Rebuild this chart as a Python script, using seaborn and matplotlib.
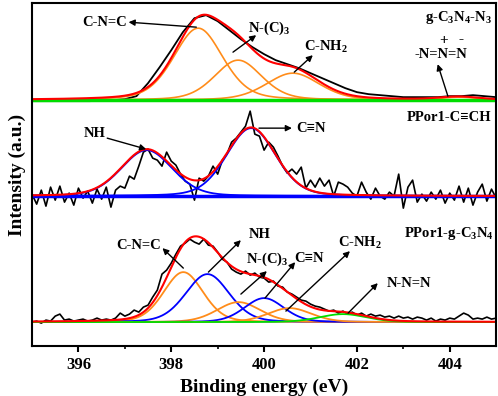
import numpy as np
import matplotlib
matplotlib.use("Agg")
import matplotlib.pyplot as plt
import seaborn as sns

# ---- data (heights above each spectrum's baseline, a.u.) ----
energy_coarse = np.round(np.arange(395.0, 405.001, 0.25), 2)   # top spectrum sampling
energy_fine = np.round(np.arange(395.0, 405.001, 0.1), 2)      # noisy spectra sampling

g_c3n4_n3 = [-1, -1, -1, -1, -1, -1, 0, 0, 1, 4,
             17, 33, 50, 68, 82, 85, 79, 70, 61, 53,
             46, 40, 36, 32, 27, 22, 17, 12, 8, 6,
             5, 4, 3, 3, 3, 3, 4, 4, 5, 4, 3]

ppor1_cch = [2, -8, 6, -10, 9, -4, 10, -6, 3, -9,
             8, -2, 5, -7, 7, -3, 9, -11, 6, 10,
             8, 20, 17, 30, 44, 47, 38, 36, 30, 44,
             35, 31, 22, 15, 12, -4, 18, 15, 20, 30,
             22, 36, 42, 54, 58, 64, 70, 85, 62, 60,
             46, 54, 49, 40, 30, 23, 27, 22, 29, 8,
             16, 9, 18, 10, 16, 0, 14, 12, 9, 3,
             0, 14, 4, -3, 8, 0, -3, 4, 0, 22,
             -12, 9, 16, -6, 2, -5, 4, -3, 6, -7,
             3, -4, 10, -6, 8, -9, 4, 12, -5, 7, -2]

ppor1_gc3n4 = [0, 1, -1, 2, 1, 6, 8, 2, 3, 1,
               2, 3, 1, 2, 4, 2, 3, 2, 4, 9,
               6, 8, 12, 10, 15, 17, 25, 32, 48, 52,
               59, 68, 76, 79, 83, 80, 78, 83, 77, 76,
               70, 63, 60, 53, 50, 48, 51, 47, 49, 45,
               44, 40, 41, 36, 35, 30, 28, 25, 22, 21,
               18, 16, 15, 13, 11, 12, 9, 11, 8, 10,
               7, 9, 6, 8, 6, 7, 5, 6, 4, 6,
               4, 5, 3, 5, 4, 2, 4, 1, 3, 2,
               4, 3, 6, 9, 7, 3, 4, 3, 5, 3, 4]

# fitted components: centre (eV), height, FWHM (eV)
top_centres = [398.58, 399.44, 400.62, 404.2]
top_heights = [72, 40, 27, 3]
top_fwhm = [1.25, 1.2, 1.35, 1.0]

mid_centres = [397.47, 399.72]
mid_heights = [46, 68]
mid_fwhm = [1.3, 1.25]

bot_centres = [398.26, 398.78, 399.45, 400.0, 400.55, 401.7]
bot_heights = [50, 48, 20, 24, 14, 8]
bot_fwhm = [1.0, 1.1, 1.1, 1.0, 1.1, 1.2]
bot_colors = ["#ff8c1a", "#0000ff", "#ff8c1a", "#0000ff", "#ff8c1a", "#00dd00"]

# vertical stacking offsets
off_top, off_mid, off_bot = 246, 150, 24


def pseudo_voigt(x, c, h, w, eta=0.25):
    g = np.exp(-4 * np.log(2) * (x - c) ** 2 / w ** 2)
    l = 1 / (1 + 4 * (x - c) ** 2 / w ** 2)
    return h * ((1 - eta) * g + eta * l)


sns.set_theme(style="ticks")
plt.rcParams['font.family'] = ['Liberation Serif', 'DejaVu Serif']
plt.rcParams['font.weight'] = 'bold'
plt.rcParams['text.color'] = 'black'
plt.rcParams['axes.labelcolor'] = 'black'
plt.rcParams['xtick.color'] = 'black'
plt.rcParams['mathtext.fontset'] = 'custom'
plt.rcParams['mathtext.rm'] = 'Liberation Serif:bold'
plt.rcParams['mathtext.it'] = 'Liberation Serif:bold'
plt.rcParams['mathtext.bf'] = 'Liberation Serif:bold'

fig = plt.figure(figsize=(4.98, 3.96), dpi=100)
ax = fig.add_axes([0.0643, 0.126, 0.932, 0.866])

xf = np.linspace(395, 405, 600)

# ---- top: g-C3N4-N3 ----
sns.lineplot(x=energy_coarse, y=np.array(g_c3n4_n3) + off_top, color="black", lw=1.3, ax=ax)
env = np.zeros_like(xf)
for c, h, w in zip(top_centres, top_heights, top_fwhm):
    comp = pseudo_voigt(xf, c, h, w, 0.3)
    env += comp
    sns.lineplot(x=xf, y=comp + off_top, color="#ff8c1a", lw=1.2, ax=ax)
sns.lineplot(x=xf, y=np.full_like(xf, off_top), color="#00dd00", lw=2.5, ax=ax)
sns.lineplot(x=xf, y=env + off_top, color="#ff0000", lw=1.5, ax=ax)

# ---- middle: PPor1-C≡CH ----
sns.lineplot(x=energy_fine, y=np.array(ppor1_cch) + off_mid, color="black", lw=1.2, ax=ax)
env = np.zeros_like(xf)
for c, h, w in zip(mid_centres, mid_heights, mid_fwhm):
    comp = pseudo_voigt(xf, c, h, w, 0.2)
    env += comp
    sns.lineplot(x=xf, y=comp + off_mid, color="#0000ff", lw=1.3, ax=ax)
sns.lineplot(x=xf, y=np.full_like(xf, off_mid), color="#0000ff", lw=2.5, ax=ax)
sns.lineplot(x=xf, y=env + off_mid, color="#ff0000", lw=1.5, ax=ax)

# ---- bottom: PPor1-g-C3N4 ----
sns.lineplot(x=energy_fine, y=np.array(ppor1_gc3n4) + off_bot, color="black", lw=1.2, ax=ax)
sns.lineplot(x=xf, y=np.full_like(xf, off_bot), color="#b090e0", lw=1.2, ax=ax)
env = np.zeros_like(xf)
for c, h, w, col in zip(bot_centres, bot_heights, bot_fwhm, bot_colors):
    comp = pseudo_voigt(xf, c, h, w, 0.2)
    env += comp
    sns.lineplot(x=xf, y=comp + off_bot, color=col, lw=1.3, ax=ax)
sns.lineplot(x=xf, y=env + off_bot, color="#ff0000", lw=1.5, ax=ax)

# ---- labels and arrows ----
fs = 10.5
arw = dict(arrowstyle="-|>", color="black", lw=1.0, mutation_scale=9, shrinkA=0, shrinkB=0)


def arrow(tail, head):
    ax.annotate("", xy=head, xytext=tail, arrowprops=arw)


def label(x, y, s, ha="left", va="center", size=fs):
    ax.text(x, y, s, ha=ha, va=va, fontsize=size, fontweight="bold", color="black")


# top
label(397.05, 324, "C-N=C", ha="right")
arrow((398.54, 319), (397.08, 324))
label(399.66, 318, "N-(C)$_3$")
arrow((399.33, 294), (399.83, 311))
label(400.86, 299, "C-NH$_2$")
arrow((400.65, 274), (401.05, 291))
label(403.23, 292, "-N=N=N")
label(403.86, 299.5, "+", ha="center", va="bottom", size=11)
label(404.25, 300.5, "-", ha="center", va="bottom", size=11)
arrow((403.96, 250), (403.74, 282))
label(404.9, 329, "g-C$_3$N$_4$-N$_3$", ha="right")

# middle
label(396.11, 213, "NH")
arrow((396.62, 208), (397.46, 197))
label(400.69, 218, "C≡N")
arrow((399.89, 218), (400.6, 218))
label(404.9, 229, "PPor1-C≡CH", ha="right")

# bottom
label(397.78, 101, "C-N=C", ha="right")
arrow((398.26, 78), (397.81, 98))
label(399.66, 112, "NH")
arrow((398.8, 74), (399.5, 106))
label(399.61, 87, "N-(C)$_3$")
arrow((399.5, 52), (400.06, 75))
label(400.65, 88, "C≡N")
arrow((400.02, 48), (400.67, 84))
label(401.59, 103, "C-NH$_2$")
arrow((400.47, 35), (401.85, 95))
label(402.64, 63, "N-N=N")
arrow((401.81, 33), (402.45, 63))
label(404.95, 113, "PPor1-g-C$_3$N$_4$", ha="right")

# ---- axes ----
ax.set_xlim(395, 405)
ax.set_ylim(0, 343)
ax.set_yticks([])
ax.set_xticks([396, 398, 400, 402, 404])
ax.set_xticks([397, 399, 401, 403], minor=True)
ax.tick_params(axis="x", which="major", direction="out", length=4, width=1.5,
               labelsize=12, pad=4, colors="black")
ax.tick_params(axis="x", which="minor", direction="out", length=2.5, width=1.2, colors="black")
for lab in ax.get_xticklabels():
    lab.set_fontweight("bold")
for sp in ax.spines.values():
    sp.set_visible(True)
    sp.set_linewidth(1.5)
    sp.set_color("black")
ax.set_xlabel("Binding energy (eV)", fontsize=14, fontweight="bold", labelpad=4, color="black")
ax.set_ylabel("Intensity (a.u.)", fontsize=14, fontweight="bold", labelpad=4, color="black")

fig.savefig("out.png", dpi=100)
